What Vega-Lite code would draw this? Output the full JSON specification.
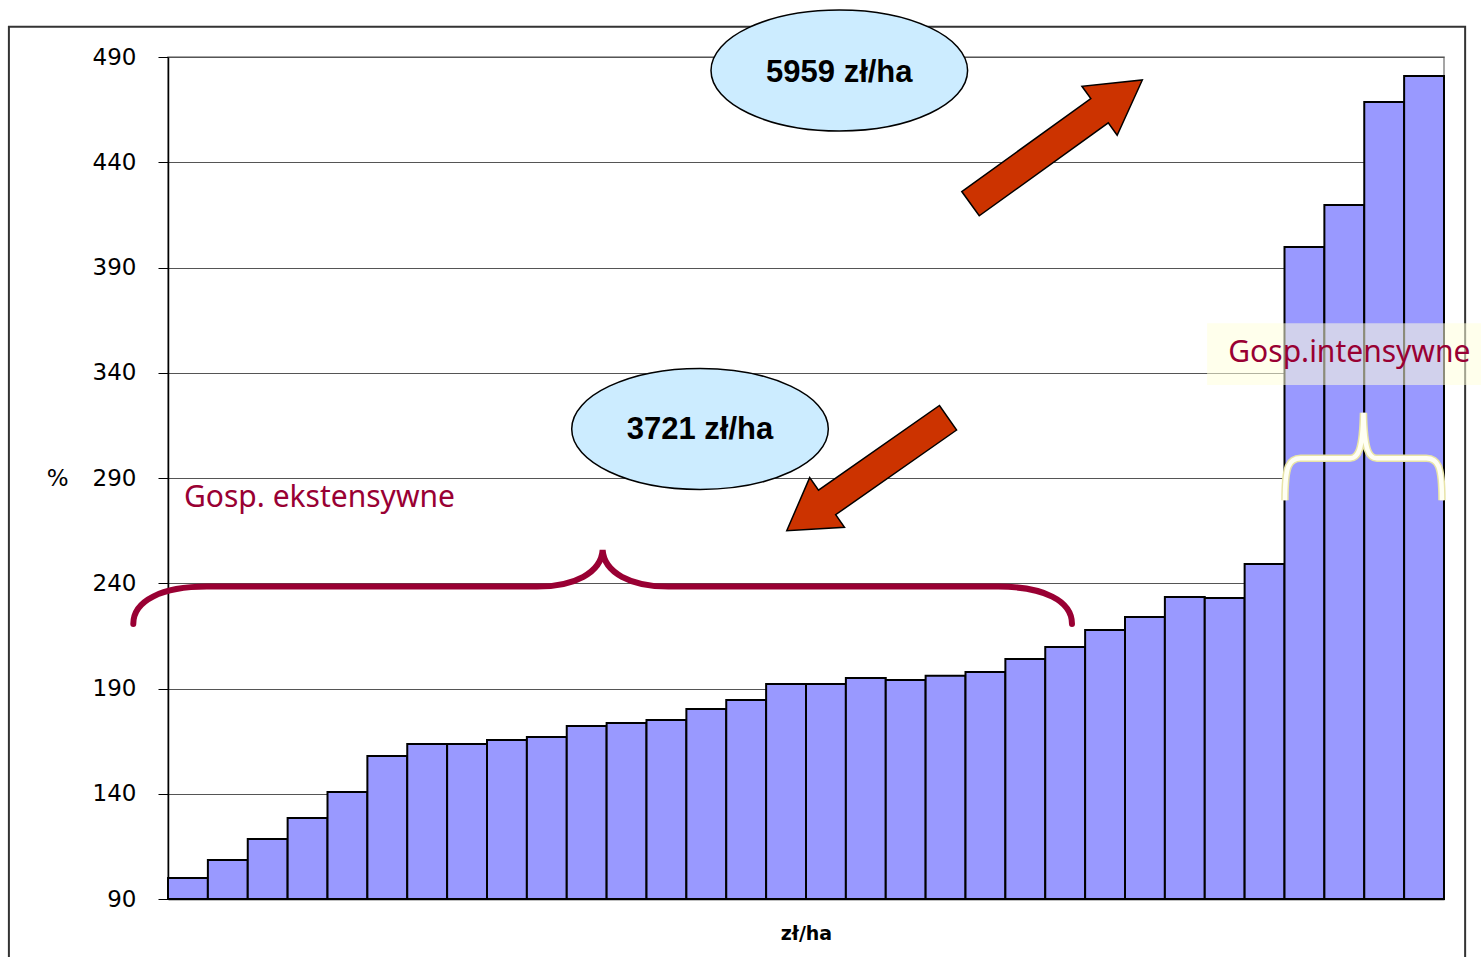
{
  "$schema": "https://vega.github.io/schema/vega-lite/v6.json",
  "autosize": {"type": "none"},
  "padding": {"left": 168, "top": 57, "right": 37, "bottom": 58},
  "width": 1276,
  "height": 842,
  "background": "white",
  "config": {
    "view": {"stroke": "#888", "strokeWidth": 1.5},
    "font": "DejaVu Sans"
  },
  "resolve": {"scale": {"x": "independent"}},
  "layer": [
    {
      "data": {"values": [{"x": -3.99, "x2": 32.53, "y": 504.4, "y2": 58.6}]},
      "mark": {"type": "rect", "fillOpacity": 0, "stroke": "#333", "strokeWidth": 2, "clip": false},
      "encoding": {
        "x": {"field": "x", "type": "quantitative", "scale": {"domain": [0, 32], "nice": false, "zero": false}, "axis": null},
        "x2": {"field": "x2"},
        "y": {"field": "y", "type": "quantitative", "scale": {"domain": [90, 490], "nice": false, "zero": false}},
        "y2": {"field": "y2"}
      }
    },
    {
      "data": {"values": [
        {"i": 1, "v": 100}, {"i": 2, "v": 108.5}, {"i": 3, "v": 118.5}, {"i": 4, "v": 128.5},
        {"i": 5, "v": 140.8}, {"i": 6, "v": 157.9}, {"i": 7, "v": 163.6}, {"i": 8, "v": 163.6},
        {"i": 9, "v": 165.5}, {"i": 10, "v": 167}, {"i": 11, "v": 172.2}, {"i": 12, "v": 173.6},
        {"i": 13, "v": 175}, {"i": 14, "v": 180.3}, {"i": 15, "v": 184.5}, {"i": 16, "v": 192.1},
        {"i": 17, "v": 192.1}, {"i": 18, "v": 195}, {"i": 19, "v": 194}, {"i": 20, "v": 196},
        {"i": 21, "v": 197.8}, {"i": 22, "v": 204}, {"i": 23, "v": 209.7}, {"i": 24, "v": 217.8},
        {"i": 25, "v": 224}, {"i": 26, "v": 233.5}, {"i": 27, "v": 233}, {"i": 28, "v": 249.1},
        {"i": 29, "v": 399.7}, {"i": 30, "v": 419.7}, {"i": 31, "v": 468.6}, {"i": 32, "v": 481}
      ]},
      "mark": {"type": "bar", "fill": "#9999FF", "stroke": "#000", "strokeWidth": 2},
      "encoding": {
        "x": {"field": "i", "type": "ordinal", "scale": {"paddingInner": 0, "paddingOuter": 0},
          "axis": {"title": "zł/ha", "labels": false, "ticks": false, "domain": true, "domainColor": "#000", "domainWidth": 1.5,
            "titleFont": "DejaVu Sans", "titleFontWeight": "bold", "titleFontSize": 19, "titleColor": "#000",
            "titleY": 34, "titleBaseline": "middle"}},
        "y": {"field": "v", "type": "quantitative", "scale": {"domain": [90, 490], "nice": false, "zero": false},
          "axis": {"values": [90, 140, 190, 240, 290, 340, 390, 440, 490], "grid": true, "gridColor": "#555", "gridWidth": 1,
            "tickSize": 10, "tickColor": "#000", "domainColor": "#000", "domainWidth": 1.5,
            "labelFont": "DejaVu Sans", "labelFontSize": 23, "labelColor": "#000", "labelPadding": 22,
            "title": "%", "titleAngle": 0, "titleFont": "DejaVu Sans", "titleFontSize": 23, "titleFontWeight": "normal", "titleColor": "#000",
            "titleX": -100, "titleY": 421, "titleAlign": "right", "titleBaseline": "middle"}},
        "y2": {"datum": 90}
      }
    },
    {
      "data": {"values": [{"x": 26.06, "x2": 32.93, "y": 363.5, "y2": 334.2}]},
      "mark": {"type": "rect", "fill": "#FFFFDD", "fillOpacity": 0.55, "clip": false},
      "encoding": {
        "x": {"field": "x", "type": "quantitative", "scale": {"domain": [0, 32], "nice": false, "zero": false}, "axis": null},
        "x2": {"field": "x2"},
        "y": {"field": "y", "type": "quantitative"},
        "y2": {"field": "y2"}
      }
    },
    {
      "data": {"values": [
        {"x": 0.401, "y": 280.5, "label": "Gosp. ekstensywne"},
        {"x": 26.59, "y": 349.2, "label": "Gosp.intensywne"}
      ]},
      "mark": {"type": "text", "font": "Noto Sans", "fontSize": 30, "fill": "#990033", "align": "left", "baseline": "middle", "clip": false},
      "encoding": {
        "x": {"field": "x", "type": "quantitative", "scale": {"domain": [0, 32], "nice": false, "zero": false}, "axis": null},
        "y": {"field": "y", "type": "quantitative"},
        "text": {"field": "label"}
      }
    },
    {
      "data": {"values": [{"x": 10.9, "y": 238.4}]},
      "mark": {"type": "point", "shape": "M -1 0.0795 C -1 0.03 -0.94 0 -0.843 0 L -0.14 0 C -0.06 0 -0.003 -0.03 0 -0.078 C 0.003 -0.03 0.06 0 0.14 0 L 0.843 0 C 0.94 0 1 0.03 1 0.0795",
        "size": 881158, "filled": false, "stroke": "#990033", "strokeWidth": 6, "strokeCap": "round", "opacity": 1, "clip": false},
      "encoding": {
        "x": {"field": "x", "type": "quantitative", "scale": {"domain": [0, 32], "nice": false, "zero": false}, "axis": null},
        "y": {"field": "y", "type": "quantitative"}
      }
    },
    {
      "data": {"values": [{"x": 29.98, "y": 299.4}]},
      "mark": {"type": "point", "shape": "M -1 0.535 C -1 0.1 -0.95 0 -0.8 0 L -0.17 0 C -0.07 0 -0.01 -0.1 0 -0.577 C 0.01 -0.1 0.07 0 0.17 0 L 0.8 0 C 0.95 0 1 0.1 1 0.535",
        "size": 24649, "filled": false, "stroke": "#E8E4A8", "strokeWidth": 7.5, "opacity": 1, "clip": false},
      "encoding": {
        "x": {"field": "x", "type": "quantitative", "scale": {"domain": [0, 32], "nice": false, "zero": false}, "axis": null},
        "y": {"field": "y", "type": "quantitative"}
      }
    },
    {
      "data": {"values": [{"x": 29.98, "y": 299.4}]},
      "mark": {"type": "point", "shape": "M -1 0.535 C -1 0.1 -0.95 0 -0.8 0 L -0.17 0 C -0.07 0 -0.01 -0.1 0 -0.577 C 0.01 -0.1 0.07 0 0.17 0 L 0.8 0 C 0.95 0 1 0.1 1 0.535",
        "size": 24649, "filled": false, "stroke": "#FFFFF4", "strokeWidth": 4.5, "opacity": 1, "clip": false},
      "encoding": {
        "x": {"field": "x", "type": "quantitative", "scale": {"domain": [0, 32], "nice": false, "zero": false}, "axis": null},
        "y": {"field": "y", "type": "quantitative"}
      }
    },
    {
      "data": {"values": [{"x": 22.28, "y": 449.7}]},
      "mark": {"type": "point", "shape": "M -1 -0.141 L 0.502 -0.141 L 0.502 -0.285 L 1 0 L 0.502 0.285 L 0.502 0.141 L -1 0.141 Z",
        "size": 44817, "angle": 324.25, "filled": true, "fill": "#CC3300", "stroke": "#000", "strokeWidth": 1.5, "opacity": 1, "clip": false},
      "encoding": {
        "x": {"field": "x", "type": "quantitative", "scale": {"domain": [0, 32], "nice": false, "zero": false}, "axis": null},
        "y": {"field": "y", "type": "quantitative"}
      }
    },
    {
      "data": {"values": [{"x": 17.54, "y": 291.8}]},
      "mark": {"type": "point", "shape": "M -1 -0.152 L 0.5 -0.152 L 0.5 -0.308 L 1 0 L 0.5 0.308 L 0.5 0.152 L -1 0.152 Z",
        "size": 38770, "angle": 145, "filled": true, "fill": "#CC3300", "stroke": "#000", "strokeWidth": 1.5, "opacity": 1, "clip": false},
      "encoding": {
        "x": {"field": "x", "type": "quantitative", "scale": {"domain": [0, 32], "nice": false, "zero": false}, "axis": null},
        "y": {"field": "y", "type": "quantitative"}
      }
    },
    {
      "data": {"values": [{"x": 16.835, "y": 483.6}, {"x": 13.342, "y": 313.3}]},
      "mark": {"type": "point", "shape": "M -1 0 C -1 -0.2604 -0.5523 -0.4715 0 -0.4715 C 0.5523 -0.4715 1 -0.2604 1 0 C 1 0.2604 0.5523 0.4715 0 0.4715 C -0.5523 0.4715 -1 0.2604 -1 0 Z",
        "size": 65844, "filled": true, "fill": "#CCECFF", "stroke": "#000", "strokeWidth": 1.5, "opacity": 1, "clip": false},
      "encoding": {
        "x": {"field": "x", "type": "quantitative", "scale": {"domain": [0, 32], "nice": false, "zero": false}, "axis": null},
        "y": {"field": "y", "type": "quantitative"}
      }
    },
    {
      "data": {"values": [
        {"x": 16.835, "y": 482.4, "label": "5959 zł/ha"},
        {"x": 13.342, "y": 312.8, "label": "3721 zł/ha"}
      ]},
      "mark": {"type": "text", "font": "Liberation Sans", "fontWeight": "bold", "fontSize": 31, "fill": "#000", "align": "center", "baseline": "middle", "clip": false},
      "encoding": {
        "x": {"field": "x", "type": "quantitative", "scale": {"domain": [0, 32], "nice": false, "zero": false}, "axis": null},
        "y": {"field": "y", "type": "quantitative"},
        "text": {"field": "label"}
      }
    }
  ]
}
